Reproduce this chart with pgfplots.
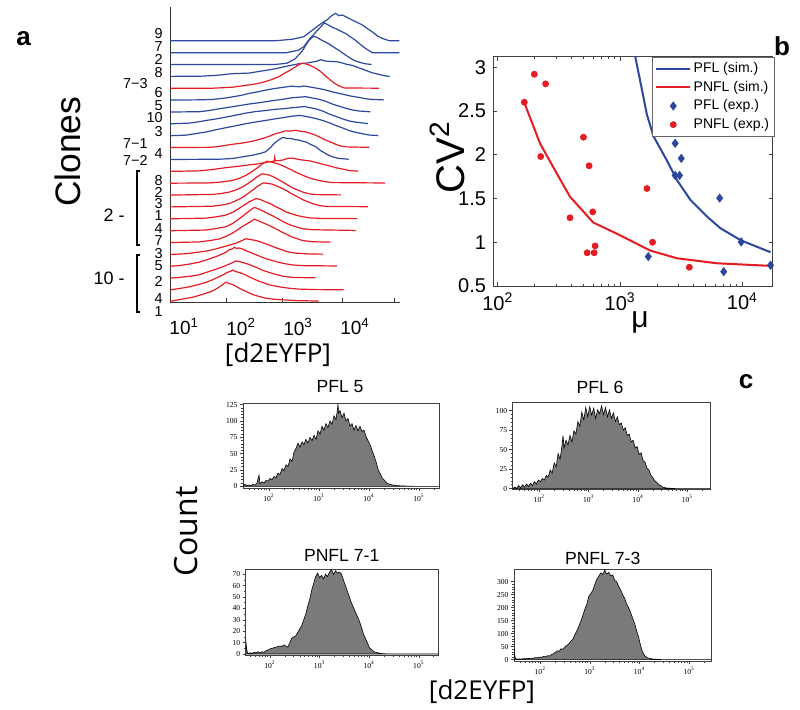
\documentclass[border=0pt]{standalone}
\usepackage{fontspec}
\setmainfont{Liberation Sans}
\newfontfamily\osans{Open Sans}
\newfontfamily\tnr{Liberation Serif}
\usepackage{pgfplots}
\pgfplotsset{compat=1.18}
\definecolor{mblue}{RGB}{44,72,158}
\definecolor{mred}{RGB}{228,28,36}
\definecolor{hgray}{RGB}{122,122,122}
\pgfplotsset{
  hist/.style={scale only axis, anchor=south west,
    tick align=outside, axis line style={black!75,line width=0.35pt},
    tick style={black!75,line width=0.3pt}, major tick length=1.6pt, minor tick length=0.9pt,
    xtick={2,3,4,5}, xticklabels={10\textsuperscript{2},10\textsuperscript{3},10\textsuperscript{4},10\textsuperscript{5}},
    minor xtick={1.602,1.699,1.778,1.845,1.903,1.954,2.301,2.477,2.602,2.699,2.778,2.845,2.903,2.954,3.301,3.477,3.602,3.699,3.778,3.845,3.903,3.954,4.301,4.477,4.602,4.699,4.778,4.845,4.903,4.954,5.301},
    minor y tick num=4,
    tick label style={font=\tnr\fontsize{3.8}{4}\selectfont, inner sep=1pt},
    xtick pos=bottom, ytick pos=left},
  histplot/.style={fill=hgray, draw=black, line width=0.3pt}
}
\begin{document}
\begin{tikzpicture}
\useasboundingbox (0,0) rectangle (400pt,-354.5pt);
% ---------------- panel a ----------------
\begin{axis}[at={(85pt,-151pt)}, anchor=south west, scale only axis, width=115pt, height=147.5pt,
  xmin=0.75, xmax=4.79, ymin=0, ymax=294.7,
  axis x line*=bottom, axis y line*=left, axis line style={black!80,line width=0.5pt,-},
  ytick=\empty, xtick={1,2,3,4},
  xticklabels={10\textsuperscript{1},10\textsuperscript{2},10\textsuperscript{3},10\textsuperscript{4}},
  major tick length=0pt,
  extra x ticks={1.74,2.72,3.77,4.68}, extra x tick labels={},
  extra x tick style={tick align=inside, major tick length=2pt, tick style={black!80}},
  tick label style={font=\fontsize{9.5}{10}\selectfont},
  xticklabel style={yshift=-4.5pt},
  clip=false]
\addplot[mblue, line width=0.6pt] coordinates {(0.75,261) (2.6,261) (2.9,262.5) (3.1,265) (3.25,271.5) (3.4,278) (3.51,282) (3.6,286.5) (3.66,288.3) (3.72,286) (3.78,286.7) (3.87,284) (3.95,281.7) (4.05,279) (4.13,276.7) (4.22,273) (4.30,270) (4.40,265.5) (4.48,263.3) (4.6,261) (4.78,261)};
\addplot[mblue, line width=0.6pt] coordinates {(0.75,249.1) (2.8,249.1) (3.0,251.5) (3.1,255) (3.19,262) (3.27,267) (3.34,271.4) (3.4,275) (3.46,278.8) (3.54,276.5) (3.6,274.5) (3.66,273.1) (3.75,270.6) (3.84,268.1) (3.93,264.5) (4.01,261.4) (4.1,257) (4.19,253.1) (4.3,249.1) (4.78,249.1)};
\addplot[mblue, line width=0.6pt] coordinates {(0.75,237.3) (2.6,237.3) (2.8,238.5) (2.95,243) (3.08,251.3) (3.14,257) (3.19,261.3) (3.24,264) (3.28,265.3) (3.33,264.5) (3.37,263) (3.45,260.5) (3.54,258) (3.63,254.5) (3.72,251.3) (3.8,248) (3.89,244.6) (3.98,241.5) (4.07,239.6) (4.18,238) (4.29,237.3)};
\addplot[mblue, line width=0.6pt] coordinates {(0.75,225.4) (1.3,225.6) (1.56,226.4) (1.85,228.1) (2.14,228.7) (2.43,231.4) (2.6,233) (2.73,234.7) (2.88,236.5) (3.02,238.1) (3.15,238.7) (3.25,239.7) (3.33,240.5) (3.4,242.1) (3.47,240.8) (3.54,240.4) (3.63,240.2) (3.72,239.7) (3.85,237.5) (3.95,236.4) (4.07,233.9) (4.19,231.4) (4.3,229) (4.42,227.4) (4.52,226) (4.61,225.4)};
\addplot[mred, line width=0.6pt] coordinates {(0.75,213.6) (1.5,213.6) (1.85,214.6) (2.14,216.9) (2.3,218.3) (2.43,220.3) (2.55,222.5) (2.67,225.3) (2.76,228.5) (2.84,230.9) (2.92,233.8) (2.99,236.3) (3.05,238) (3.08,238.6) (3.13,237.9) (3.19,236.9) (3.25,235.3) (3.31,233.6) (3.39,230.5) (3.46,226.9) (3.53,223.5) (3.6,220.3) (3.66,217.8) (3.72,215.9) (3.81,213.8) (4.42,213.6)};
\addplot[mblue, line width=0.6pt] coordinates {(0.75,201.7) (1.3,202) (1.5,202.4) (1.7,203.6) (1.85,205) (2.0,206.4) (2.14,208.4) (2.28,209.8) (2.43,211.7) (2.58,213.2) (2.73,214.4) (2.88,215.6) (3.02,215) (3.1,215.8) (3.25,214.4) (3.37,213.2) (3.49,211.7) (3.63,209.5) (3.78,207.7) (3.92,205.8) (4.07,204.4) (4.2,203) (4.3,202.4) (4.51,201.9)};
\addplot[mblue, line width=0.6pt] coordinates {(0.75,189.8) (1.26,190.1) (1.4,191) (1.56,192.5) (1.7,193.8) (1.85,195.1) (2.0,196.5) (2.14,197.8) (2.28,198.8) (2.43,200.1) (2.58,201.4) (2.73,202.5) (2.9,204.1) (3.02,204.6) (3.13,205.1) (3.25,203.8) (3.37,202.5) (3.48,200.6) (3.6,197.8) (3.72,195.6) (3.84,193.5) (3.95,191.9) (4.07,190.8) (4.27,190)};
\addplot[mblue, line width=0.6pt] coordinates {(0.75,178) (1.09,178.7) (1.25,180) (1.38,181.3) (1.55,182.8) (1.73,184.7) (1.9,186.6) (2.08,188.7) (2.25,190.2) (2.43,191.3) (2.58,192.4) (2.73,193) (2.88,194) (3.02,194.7) (3.11,195.3) (3.2,194.2) (3.31,193) (3.43,190.8) (3.54,188) (3.66,185.5) (3.78,183) (3.9,180.8) (4.01,179.7) (4.23,178.2)};
\addplot[mblue, line width=0.6pt] coordinates {(0.75,166.1) (1.03,166.7) (1.2,168.2) (1.38,169.8) (1.55,172) (1.73,174.1) (1.9,176) (2.08,178.1) (2.25,179.8) (2.43,181.4) (2.58,182.8) (2.73,184.1) (2.88,185.5) (3.02,186.4) (3.1,185.8) (3.19,184.8) (3.31,183.3) (3.43,181.4) (3.55,179) (3.66,176.4) (3.78,173.9) (3.89,171.4) (4.0,169.6) (4.13,168.1) (4.25,166.8) (4.41,166.3)};
\addplot[mred, line width=0.6pt] coordinates {(0.75,154.3) (1.4,154.5) (1.56,155) (1.7,156.2) (1.85,157.6) (2.0,158.6) (2.14,160) (2.25,161.3) (2.37,163.3) (2.49,165.5) (2.61,168.3) (2.7,169.5) (2.78,171) (2.87,170.8) (2.96,171.6) (3.05,170.4) (3.13,170) (3.22,168.4) (3.31,166.6) (3.4,164.2) (3.49,161.6) (3.58,159.6) (3.66,157.6) (3.75,155.8) (3.84,155) (4.25,154.5)};
\addplot[mblue, line width=0.6pt] coordinates {(0.75,142.4) (1.6,142.6) (1.85,143.4) (2.0,144.8) (2.2,146.7) (2.33,148.3) (2.43,150.1) (2.51,154) (2.58,158.4) (2.66,162) (2.73,164.4) (2.8,163.5) (2.87,163.4) (2.95,162.2) (3.02,161.7) (3.08,160.6) (3.13,160.1) (3.22,157.4) (3.31,155.1) (3.39,151.5) (3.46,149.1) (3.53,146.8) (3.6,145.1) (3.7,143.6) (3.89,142.6)};
\addplot[mred, line width=0.6pt] coordinates {(0.75,130.5) (1.26,131) (1.5,132.4) (1.73,134.2) (1.95,135.6) (2.14,137) (2.3,138) (2.43,139.5) (2.55,140.5) (2.58,140.9) (2.59,144.5) (2.6,141) (2.73,141.8) (2.82,143.5) (2.9,143.8) (2.98,142.8) (3.08,141.8) (3.2,141) (3.31,139.5) (3.43,137.7) (3.54,136.2) (3.66,134.2) (3.78,132.8) (3.9,131.3) (4.06,130.7)};
\addplot[mred, line width=0.6pt] coordinates {(0.75,118.7) (1.4,118.9) (1.56,119.4) (1.72,120.4) (1.85,121.4) (1.97,123.6) (2.08,126.4) (2.17,129.5) (2.26,133) (2.32,135.6) (2.37,138) (2.42,139.6) (2.46,140.7) (2.53,139.8) (2.61,138.7) (2.7,136.8) (2.78,134.7) (2.87,132.4) (2.96,129.7) (3.05,127.5) (3.13,125.4) (3.25,123) (3.37,121.4) (3.5,120) (3.6,119.3) (4.53,118.9)};
\addplot[mred, line width=0.6pt] coordinates {(0.75,106.8) (1.5,107.5) (1.65,108.4) (1.79,109.8) (1.9,111.8) (2.02,114.8) (2.11,118) (2.2,121.5) (2.26,124.3) (2.32,126.5) (2.37,128.1) (2.44,127.4) (2.5,126.6) (2.55,125.5) (2.64,122.8) (2.73,119.8) (2.82,116.8) (2.9,114.1) (3.0,111.7) (3.08,109.8) (3.2,108) (3.31,107.3) (3.75,107)};
\addplot[mred, line width=0.6pt] coordinates {(0.75,95) (1.5,95.7) (1.65,96.8) (1.79,98.3) (1.9,101) (2.02,104.3) (2.11,108) (2.2,111.7) (2.26,114.5) (2.32,116.7) (2.37,118.5) (2.41,119) (2.48,118.3) (2.55,117.7) (2.64,115.6) (2.73,113.3) (2.82,110.5) (2.9,107.7) (3.0,104.8) (3.08,102.3) (3.17,100.2) (3.25,98.3) (3.37,96.5) (3.49,95.5) (4.23,95.2)};
\addplot[mred, line width=0.6pt] coordinates {(0.75,83.1) (1.38,83.8) (1.55,85) (1.73,86.8) (1.85,89.5) (1.96,93.4) (2.05,96.7) (2.14,100.1) (2.2,101.6) (2.26,103.4) (2.33,102.5) (2.43,100.1) (2.52,98) (2.61,95.1) (2.7,92.8) (2.78,90.1) (2.87,88.4) (2.96,86.8) (3.08,85.2) (3.19,84.1) (3.4,83.5) (4.04,83.3)};
\addplot[mred, line width=0.6pt] coordinates {(0.75,71.2) (1.38,71.9) (1.55,73.3) (1.73,75.2) (1.85,78.4) (1.96,82.9) (2.04,86.4) (2.11,89.5) (2.18,92.5) (2.23,94.5) (2.3,93.2) (2.37,91.2) (2.46,88.6) (2.55,86.2) (2.64,83.4) (2.73,80.5) (2.82,78) (2.9,76.2) (3.0,74.5) (3.08,73.2) (3.25,72.2) (4.01,71.5)};
\addplot[mred, line width=0.6pt] coordinates {(0.75,59.4) (1.26,60) (1.45,61.4) (1.61,62.9) (1.73,65.5) (1.85,68.9) (1.94,72.2) (2.02,75.4) (2.08,77.4) (2.14,79.4) (2.19,81.2) (2.23,82.8) (2.3,81.2) (2.37,79.4) (2.46,77.3) (2.55,74.8) (2.64,72.2) (2.73,69.4) (2.82,67) (2.9,64.8) (3.0,62.9) (3.08,61.4) (3.25,60.2) (3.58,59.8)};
\addplot[mred, line width=0.6pt] coordinates {(0.75,47.5) (1.03,48.2) (1.2,49.5) (1.38,50.8) (1.52,52.5) (1.67,54.8) (1.8,57) (1.91,58.8) (2.0,61) (2.08,63.2) (2.17,62.3) (2.26,61.5) (2.35,59.8) (2.43,58.2) (2.52,56.3) (2.61,54.2) (2.7,52.5) (2.78,50.8) (2.87,49.6) (2.96,48.8) (3.2,48) (3.44,47.8)};
\addplot[mred, line width=0.6pt] coordinates {(0.75,35.7) (0.91,36.4) (1.1,38) (1.26,39.7) (1.4,42.3) (1.56,45.4) (1.65,47.6) (1.73,49.7) (1.8,52.5) (1.85,53.1) (1.88,54.7) (1.92,53.5) (1.96,54) (2.02,53) (2.1,50.8) (2.2,48.7) (2.28,46.7) (2.37,44.7) (2.46,42.8) (2.55,41.4) (2.64,40) (2.73,38.7) (2.9,37) (3.1,36.3) (3.68,36)};
\addplot[mred, line width=0.6pt] coordinates {(0.75,23.8) (0.91,24.5) (1.1,25.8) (1.26,27.1) (1.4,29.8) (1.56,32.8) (1.68,35.3) (1.79,37.8) (1.86,39.7) (1.91,41.1) (1.96,40.5) (2.02,39.5) (2.1,38.3) (2.2,36.1) (2.28,34.3) (2.37,31.8) (2.46,30.2) (2.55,28.5) (2.64,27.1) (2.73,25.8) (2.9,24.6) (3.31,24.1)};
\addplot[mred, line width=0.6pt] coordinates {(0.75,11.9) (0.8,12.5) (0.95,13.8) (1.09,15.2) (1.25,17.4) (1.38,19.6) (1.5,22.3) (1.61,25.2) (1.7,27.7) (1.76,29.6) (1.81,30.6) (1.85,31.9) (1.9,30.5) (1.96,29.6) (2.05,27.8) (2.14,25.2) (2.23,22.8) (2.32,20.6) (2.4,19.1) (2.49,17.2) (2.6,16) (2.73,14.6) (2.88,13.5) (3.02,12.9) (3.3,12.4) (3.8,12.2)};
\addplot[mred, line width=0.6pt] coordinates {(0.75,0.5) (0.8,1.2) (0.98,3) (1.15,4.8) (1.3,7.3) (1.44,9.8) (1.53,12) (1.61,14.8) (1.67,17.2) (1.73,19.8) (1.79,18.4) (1.85,17.5) (1.93,15) (2.02,12.2) (2.1,10.2) (2.2,7.5) (2.3,5.8) (2.43,3.8) (2.58,2.8) (2.73,2.2) (3.0,1.3) (3.36,1)};
\end{axis}
% ---------------- panel b ----------------
\begin{axis}[at={(246.5pt,-143pt)}, anchor=south west, scale only axis, width=140pt, height=114.65pt,
  xmode=log, xmin=91.2, xmax=17783, ymin=0.5, ymax=3.12,
  xtick={100,1000,10000}, xticklabels={10\textsuperscript{2},10\textsuperscript{3},10\textsuperscript{4}},
  ytick={0.5,1,1.5,2,2.5,3}, yticklabels={0.5,1,1.5,2,2.5,3},
  tick align=inside, major tick length=2pt, minor tick length=1.2pt,
  axis line style={black!75,line width=0.5pt}, tick style={black!75,line width=0.4pt},
  tick label style={font=\fontsize{10}{11}\selectfont},
  legend style={at={(1.007,1)}, anchor=north east, font=\fontsize{7}{8}\selectfont,
    draw=black!60, inner xsep=1.5pt, inner ysep=1.2pt, row sep=0pt,
    nodes={inner sep=1.2pt, text height=5.3pt, text depth=1.6pt}},
  legend cell align=left,
  legend image code/.code={\draw[mark repeat=2,mark phase=2,#1] plot coordinates {(0pt,0pt) (8.5pt,0pt) (17pt,0pt)};}]
\addplot[draw=mblue, color=mblue, line width=1pt] coordinates {(1259,3.3) (1327,3.126) (1507,2.744) (1656,2.458) (1875,2.21) (2399,1.94) (2917,1.71) (3750,1.485) (5129,1.294) (6607,1.16) (9772,1.02) (16982,0.886)};
\addlegendentry{PFL (sim.)}
\addplot[draw=mred, color=mred, line width=1pt] coordinates {(164,2.60) (221,2.13) (302,1.79) (389,1.52) (603,1.225) (933,1.10) (1762,0.905) (2917,0.817) (6166,0.76) (16982,0.73)};
\addlegendentry{PNFL (sim.)}
\addplot[only marks, mark=diamond*, mark size=2pt, color=mblue] coordinates {(1698,0.836) (2818,2.13) (2818,1.763) (3062,1.763) (3162,1.958) (6516,1.504) (7031,0.664) (9772,1.004) (16982,0.737)};
\addlegendentry{PFL (exp.)}
\addplot[only marks, mark=*, mark size=1.5pt, color=mred] coordinates {(164.4,2.60) (198.6,2.92) (245.5,2.81) (223.9,1.98) (389,1.28) (501,2.20) (557,1.874) (597,1.347) (537,0.88) (612,0.88) (624,0.958) (1656,1.614) (1841,1.0) (3681,0.714)};
\addlegendentry{PNFL (exp.)}
\end{axis}
% ---------------- panel c ----------------
\begin{axis}[hist, at={(121.5pt,-244pt)}, width=98pt, height=42.5pt,
  xmin=1.48, xmax=5.40, ymin=-2.6, ymax=127.5,
  ytick={0,25,50,75,100,125}, yticklabels={0,25,50,75,100,125}]
\addplot[histplot] coordinates {(1.48,1) (1.52,3) (1.56,1) (1.60,2) (1.64,1) (1.68,3) (1.72,2) (1.76,5) (1.80,17) (1.82,4) (1.86,7) (1.90,5) (1.94,9) (1.98,8) (2.02,12) (2.06,10) (2.10,15) (2.14,13) (2.18,20) (2.22,18) (2.26,27) (2.30,24) (2.34,33) (2.38,30) (2.42,42) (2.46,38) (2.50,52) (2.54,58) (2.58,66) (2.62,60) (2.66,68) (2.70,64) (2.74,72) (2.78,66) (2.82,75) (2.86,70) (2.90,78) (2.94,72) (2.98,85) (3.02,80) (3.06,92) (3.10,86) (3.14,96) (3.18,90) (3.22,100) (3.26,95) (3.30,108) (3.34,102) (3.37,118) (3.38,127) (3.39,112) (3.42,116) (3.46,105) (3.50,112) (3.54,100) (3.58,104) (3.62,92) (3.66,96) (3.70,86) (3.74,93) (3.78,85) (3.82,92) (3.86,84) (3.90,86) (3.94,76) (3.98,70) (4.02,64) (4.06,55) (4.10,47) (4.14,38) (4.18,26) (4.22,20) (4.26,13) (4.30,10) (4.34,6) (4.38,4) (4.42,3) (4.48,2) (4.56,1) (4.70,0.5) (4.90,0) (5.4,0)} \closedcycle;
\end{axis}
\begin{axis}[hist, at={(256.35pt,-244.5pt)}, width=99pt, height=43.5pt,
  xmin=1.46, xmax=5.47, ymin=-0.4, ymax=111,
  ytick={0,25,50,75,100}, yticklabels={0,25,50,75,100}]
\addplot[histplot] coordinates {(1.46,0) (1.50,2) (1.54,0.5) (1.58,4) (1.62,1) (1.66,5) (1.70,2) (1.74,6) (1.78,3) (1.82,7) (1.86,4) (1.90,9) (1.94,6) (1.98,11) (2.02,9) (2.06,13) (2.10,11) (2.14,17) (2.18,15) (2.22,24) (2.26,20) (2.30,33) (2.34,28) (2.38,45) (2.42,38) (2.46,56) (2.48,68) (2.50,52) (2.54,62) (2.58,56) (2.62,68) (2.66,60) (2.70,74) (2.74,70) (2.78,86) (2.82,80) (2.86,98) (2.90,88) (2.94,104) (2.98,92) (3.02,105) (3.06,94) (3.10,103) (3.14,90) (3.18,101) (3.22,96) (3.26,106) (3.30,95) (3.34,104) (3.38,92) (3.42,101) (3.46,90) (3.50,97) (3.54,86) (3.58,92) (3.62,82) (3.66,84) (3.70,75) (3.74,78) (3.78,68) (3.82,70) (3.86,60) (3.90,62) (3.94,52) (3.98,54) (4.02,44) (4.06,46) (4.10,36) (4.14,34) (4.18,26) (4.22,24) (4.26,17) (4.30,14) (4.34,10) (4.38,8) (4.42,5) (4.46,4) (4.50,2) (4.56,1) (4.66,0.5) (4.80,0) (5.47,0)} \closedcycle;
\end{axis}
\begin{axis}[hist, at={(122.85pt,-327.5pt)}, width=96.5pt, height=43pt,
  xmin=1.51, xmax=5.40, ymin=-0.9, ymax=74.6,
  ytick={0,10,20,30,40,50,60,70}, yticklabels={0,10,20,30,40,50,60,70}, minor y tick num=1]
\addplot[histplot] coordinates {(1.51,13) (1.52,8) (1.54,2) (1.56,0.5) (1.60,1) (1.64,0.5) (1.68,1.5) (1.72,1) (1.76,2) (1.80,1) (1.84,2) (1.88,1.5) (1.92,3) (1.96,3.5) (2.00,4.5) (2.04,5) (2.08,5.5) (2.12,6) (2.16,6.5) (2.20,7) (2.24,6.5) (2.28,8) (2.32,7) (2.36,6) (2.40,10) (2.44,14) (2.48,15) (2.52,16) (2.56,19) (2.60,22) (2.64,25) (2.68,30) (2.72,35) (2.76,42) (2.80,48) (2.84,56) (2.88,62) (2.92,68) (2.96,71) (3.00,67) (3.04,69) (3.08,66) (3.12,70) (3.16,68) (3.20,72) (3.24,74) (3.28,70) (3.32,73) (3.36,71) (3.40,72) (3.44,70) (3.48,65) (3.52,60) (3.56,55) (3.60,50) (3.64,45) (3.68,41) (3.72,37) (3.76,33) (3.80,29) (3.84,24) (3.88,18) (3.92,14) (3.96,10) (4.00,6) (4.04,4) (4.08,2.5) (4.12,1.5) (4.18,1) (4.26,0.3) (4.40,0) (5.40,0)} \closedcycle;
\end{axis}
\begin{axis}[hist, at={(257pt,-330.5pt)}, width=98.5pt, height=46pt,
  xmin=1.47, xmax=5.44, ymin=-5.2, ymax=349,
  ytick={0,50,100,150,200,250,300}, yticklabels={0,50,100,150,200,250,300}]
\addplot[histplot] coordinates {(1.47,48) (1.48,20) (1.50,4) (1.54,2) (1.58,3) (1.62,2) (1.66,4) (1.70,3) (1.74,5) (1.78,4) (1.82,6) (1.86,5) (1.90,8) (1.94,7) (1.98,10) (2.02,9) (2.06,12) (2.10,11) (2.14,15) (2.18,14) (2.22,19) (2.26,22) (2.30,28) (2.34,34) (2.38,32) (2.42,42) (2.46,40) (2.50,50) (2.54,55) (2.58,62) (2.62,72) (2.66,80) (2.70,98) (2.74,112) (2.78,130) (2.82,150) (2.86,172) (2.90,195) (2.94,215) (2.98,245) (3.02,255) (3.06,268) (3.10,290) (3.14,310) (3.18,322) (3.22,334) (3.26,328) (3.29,340) (3.30,348) (3.31,338) (3.34,330) (3.38,336) (3.42,322) (3.46,326) (3.50,305) (3.54,300) (3.58,282) (3.62,268) (3.66,250) (3.70,236) (3.74,215) (3.78,200) (3.82,182) (3.86,160) (3.90,140) (3.94,112) (3.98,88) (4.02,55) (4.06,30) (4.10,16) (4.14,9) (4.18,6) (4.22,4) (4.28,2) (4.36,1) (4.50,0) (5.44,0)} \closedcycle;
\end{axis}
% ---------------- annotations (px units) ----------------
\begin{scope}[x=0.5pt,y=-0.5pt]
\node[font=\bfseries\fontsize{13}{13}\selectfont] at (23.5,39) {a};
\node[font=\bfseries\fontsize{13}{13}\selectfont] at (782,46) {b};
\node[font=\bfseries\fontsize{13}{13}\selectfont] at (746,381.5) {c};
\node[rotate=90, font=\fontsize{17.7}{18}\selectfont] at (67.5,151.7) {Clones};
\foreach \yy/\tt in {33.3/9, 47/7, 59.7/2, 72.7/8, 92.7/6, 105.3/5, 117.3/10, 132/3, 153.7/4, 180.3/8, 192/2, 203.7/3, 215.7/1, 229/4, 240.7/7, 254/3, 265.7/5, 281.7/2, 298.7/4, 312/1}
  \node[anchor=east, inner sep=0pt, font=\fontsize{7.2}{7.5}\selectfont] at (163,\yy) {\tt};
\node[anchor=east, inner sep=0pt, font=\fontsize{7.2}{7.5}\selectfont] at (148,84) {7−3};
\node[anchor=east, inner sep=0pt, font=\fontsize{7.2}{7.5}\selectfont] at (148,143.7) {7−1};
\node[anchor=east, inner sep=0pt, font=\fontsize{7.2}{7.5}\selectfont] at (148,160.3) {7−2};
\draw[line width=1pt] (140,171) -- (136.7,171) -- (136.7,245) -- (140,245);
\draw[line width=1pt] (140,255) -- (136.7,255) -- (136.7,311.5) -- (140,311.5);
\node[anchor=east, inner sep=0pt, font=\fontsize{9}{10}\selectfont] at (125,215) {2 -};
\node[anchor=east, inner sep=0pt, font=\fontsize{9}{10}\selectfont] at (125,278) {10 -};
\node[font=\osans\fontsize{13}{14}\selectfont] at (278,355) {[d2EYFP]};
\node[font=\osans\fontsize{13}{14}\selectfont] at (482,692) {[d2EYFP]};
\node[rotate=90, font=\osans\fontsize{16}{17}\selectfont] at (185.7,531.7) {Count};
\node[rotate=90, font=\fontsize{20}{21}\selectfont] at (447,157) {CV\textsuperscript{2}};
\node[font=\fontsize{15}{16}\selectfont] at (640,322) {μ};
\node[font=\fontsize{8.8}{9}\selectfont] at (340,387) {PFL 5};
\node[font=\fontsize{8.8}{9}\selectfont] at (600,387) {PFL 6};
\node[font=\fontsize{8.8}{9}\selectfont] at (341.7,555) {PNFL 7-1};
\node[font=\fontsize{8.8}{9}\selectfont] at (602.7,558) {PNFL 7-3};
\end{scope}
\end{tikzpicture}
\end{document}
